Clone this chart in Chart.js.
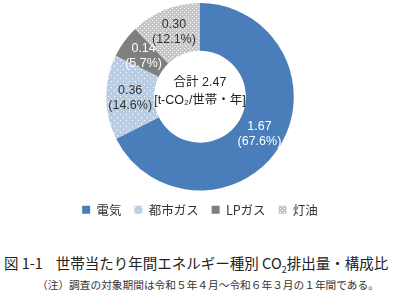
<!DOCTYPE html>
<html>
<head>
<meta charset="utf-8">
<script src="https://cdn.jsdelivr.net/npm/chart.js@4"></script>
<style>
  body { margin: 0; background: #fff; width: 400px; height: 305px; overflow: hidden; font-family: "Noto Sans CJK JP", sans-serif; }
  .chart-box { position: absolute; left: 0; top: 0; width: 400px; height: 230px; }
  .fig-title { position: absolute; left: 4px; top: 252px; font-size: 14.5px; color: #222; white-space: nowrap; letter-spacing: 0px; }
  .fig-note { position: absolute; left: 37px; top: 277px; font-size: 10.7px; color: #333; white-space: nowrap; }
</style>
</head>
<body>
<div class="chart-box"><canvas id="co2Chart"></canvas></div>
<div class="fig-title">図 1-1&nbsp;&nbsp;&nbsp; 世帯当たり年間エネルギー種別 CO<sub style="font-size:9px">2</sub>排出量・構成比</div>
<div class="fig-note">（注）調査の対象期間は令和５年４月～令和６年３月の１年間である。</div>
<script>
const categories = ["電気", "都市ガス", "LPガス", "灯油"];
const emissions = [1.67, 0.36, 0.14, 0.30];
const shares = [67.6, 14.6, 5.7, 12.1];
const totalLabel = ["合計 2.47", "[t-CO₂/世帯・年]"];

// dotted fill like the original office chart
const makeDots = (base, dot, step) => {
  const c = document.createElement("canvas");
  c.width = step; c.height = step;
  const g = c.getContext("2d");
  g.fillStyle = base;
  g.fillRect(0, 0, step, step);
  g.fillStyle = dot;
  g.fillRect(0, 0, 1, 1);
  g.fillRect(step / 2, step / 2, 1, 1);
  return g.createPattern(c, "repeat");
};

const colors = [
  "#4a7ebb",
  makeDots("#b9cde5", "#ffffff", 6),
  "#7f7f7f",
  makeDots("#c6c6c6", "#ffffff", 4)
];
const labelColors = ["#ffffff", "#333333", "#ffffff", "#333333"];

const sliceLabels = {
  id: "sliceLabels",
  afterDatasetsDraw(chart) {
    const ctx = chart.ctx;
    const meta = chart.getDatasetMeta(0);
    ctx.save();
    ctx.font = "12.5px 'Liberation Sans', sans-serif";
    ctx.textAlign = "center";
    ctx.textBaseline = "middle";
    meta.data.forEach((arc, i) => {
      const p = arc.tooltipPosition();
      ctx.fillStyle = labelColors[i];
      ctx.fillText(emissions[i].toFixed(2), p.x, p.y - 7);
      ctx.fillText("(" + shares[i].toFixed(1) + "%)", p.x, p.y + 8);
    });
    const a = meta.data[0];
    ctx.fillStyle = "#222";
    ctx.font = "12.5px 'Liberation Sans', 'Noto Sans CJK JP', sans-serif";
    ctx.fillText(totalLabel[0], a.x, a.y - 14);
    ctx.fillText(totalLabel[1], a.x, a.y + 4);
    ctx.restore();
  }
};

new Chart(document.getElementById("co2Chart"), {
  type: "doughnut",
  data: {
    labels: categories,
    datasets: [{
      data: emissions,
      backgroundColor: colors,
      borderWidth: 0
    }]
  },
  options: {
    responsive: true,
    maintainAspectRatio: false,
    animation: false,
    cutout: "49%",
    layout: { padding: { top: 3, bottom: 4 } },
    plugins: {
      legend: {
        position: "bottom",
        labels: {
          boxWidth: 8,
          boxHeight: 8,
          padding: 13,
          color: "#333",
          font: { size: 12.5, family: "'Noto Sans CJK JP', sans-serif" }
        }
      },
      tooltip: { enabled: false }
    }
  },
  plugins: [sliceLabels]
});
</script>
</body>
</html>
